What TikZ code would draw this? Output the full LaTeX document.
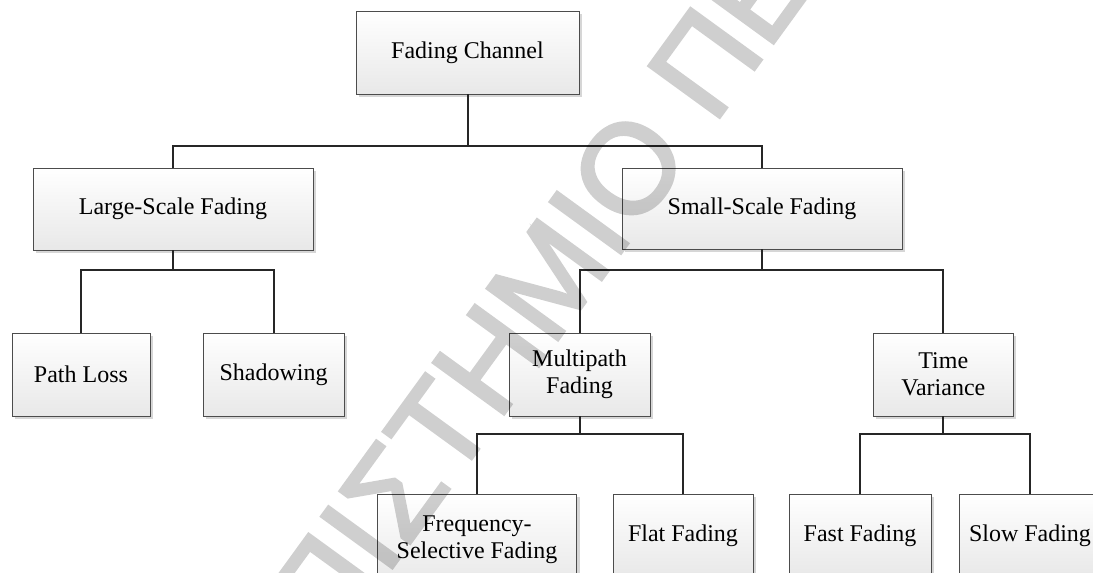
\documentclass[tikz,border=0pt]{standalone}
\usepackage{fontspec}
\setmainfont{Liberation Serif}
\newfontfamily\wmfont[FakeBold=2.5]{Liberation Sans}
\usetikzlibrary{shadows}
\begin{document}
\begin{tikzpicture}[x=1pt,y=-1pt,
  box/.style={draw=black!70, line width=1pt, top color=white, bottom color=black!9,
    inner sep=0pt, outer sep=0pt, align=center,
    font=\fontsize{24}{27}\selectfont,
    drop shadow={shadow xshift=3pt, shadow yshift=-3pt, fill=black!16, opacity=1}},
  link/.style={draw=black!85, line width=2pt},
  watermark/.style={rotate=54, anchor=base west, inner sep=0pt, text=black,
    font=\wmfont\fontsize{127}{127}\selectfont}]
\useasboundingbox (0,0) rectangle (1093,573);
\fill[white] (0,0) rectangle (1093,573);

% boxes
\node[box, minimum width=223pt, minimum height=83pt] (fc)  at (467.5,52.5) {Fading Channel};
\node[box, minimum width=280pt, minimum height=82pt] (lsf) at (173,209)    {Large-Scale Fading};
\node[box, minimum width=280pt, minimum height=81pt] (ssf) at (762,208.5)  {Small-Scale Fading};
\node[box, minimum width=138pt, minimum height=83pt] (pl)  at (81,374.5)   {Path Loss};
\node[box, minimum width=141pt, minimum height=83pt] (sh)  at (273.5,374.5) {Shadowing};
\node[box, minimum width=141pt, minimum height=83pt] (mp)  at (579.5,374.5) {Multipath\\Fading};
\node[box, minimum width=140pt, minimum height=83pt] (tv)  at (943.3,374.5) {Time\\Variance};
\node[box, minimum width=199pt, minimum height=91pt] (fs)  at (477,539.5)  {Frequency-\\Selective Fading};
\node[box, minimum width=140pt, minimum height=83pt] (ff)  at (683,535.5)  {Flat Fading};
\node[box, minimum width=142pt, minimum height=83pt] (fa)  at (860,535.5)  {Fast Fading};
\node[box, minimum width=142pt, minimum height=83pt] (sf)  at (1030,535.5) {Slow Fading};

% bus levels
\coordinate (h0) at (0,146);
\coordinate (h1) at (0,270);
\coordinate (h2) at (0,434);

% connectors
\coordinate (j0) at (fc.south |- h0);
\draw[link] (fc.south) -- (j0);
\draw[link] (lsf.north) |- (j0) -| (ssf.north);

\coordinate (j1) at (lsf.south |- h1);
\draw[link] (lsf.south) -- (j1);
\draw[link] (pl.north) |- (j1) -| (sh.north);

\coordinate (j2) at (ssf.south |- h1);
\draw[link] (ssf.south) -- (j2);
\draw[link] (mp.north) |- (j2) -| (tv.north);

\coordinate (j3) at (mp.south |- h2);
\draw[link] (mp.south) -- (j3);
\draw[link] (fs.north) |- (j3) -| (ff.north);

\coordinate (j4) at (tv.south |- h2);
\draw[link] (tv.south) -- (j4);
\draw[link] (fa.north) |- (j4) -| (sf.north);

% watermark, composited as one translucent layer
\begin{scope}[transparency group, opacity=0.19]
  \node[watermark] (wm) at (124,937) {ΠΑΝΕΠΙΣΤΗΜΙΟ ΠΕΙΡΑΙΩΣ};
\end{scope}
\end{tikzpicture}
\end{document}
